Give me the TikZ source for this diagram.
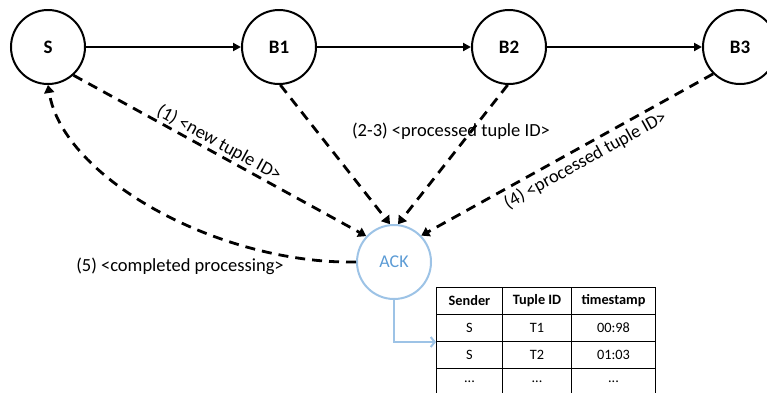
\documentclass[tikz,border=0pt]{standalone}
\usepackage{fontspec}
\setmainfont{Carlito}
\usetikzlibrary{arrows.meta}
\definecolor{ackline}{RGB}{157,195,230}
\definecolor{acktext}{RGB}{91,155,213}

\begin{document}
\begin{tikzpicture}[x=1pt,y=-1pt,
  proc/.style={circle, draw, line width=2pt, minimum size=74pt, inner sep=0pt,
    font=\fontsize{19}{22}\selectfont\bfseries},
  ackbox/.style={circle, draw=ackline, line width=2pt, minimum size=74pt, inner sep=0pt,
    text=acktext, font=\fontsize{18}{22}\selectfont},
  flow/.style={line width=2.2pt, -{Triangle[length=8pt,width=8pt]}},
  ackmsg/.style={line width=2.8pt, dash pattern=on 10pt off 7pt,
    -{Triangle[length=8pt,width=10pt]}},
  ackout/.style={draw=ackline, line width=2pt, -{Straight Barb[length=4pt,width=10pt]}},
  lbl/.style={font=\fontsize{18.5}{22}\selectfont, inner sep=1.5pt},
  cell/.style={draw, line width=1pt, minimum height=27pt, inner sep=0pt, anchor=north west,
    font=\fontsize{14.3}{17}\selectfont},
  colA/.style={cell, minimum width=66pt},
  colB/.style={cell, minimum width=69pt},
  colC/.style={cell, minimum width=84pt}
]
\useasboundingbox (0,0) rectangle (767,392);
\clip (0,0) rectangle (767,392);

% processing chain
\node[proc] (s)  at (48,47)  {S};
\node[proc] (b1) at (279,47) {B1};
\node[proc] (b2) at (509,47) {B2};
\node[proc] (b3) at (740,47) {B3};

% acker
\node[ackbox] (ack) at (394,262) {ACK};

\draw[flow] (s) -- (b1);
\draw[flow] (b1) -- (b2);
\draw[flow] (b2) -- (b3);

% ack messages
\draw[ackmsg] (s.-48) -- node[lbl, sloped, above, pos=0.48, inner sep=1pt] {(1) <new tuple ID>} (ack.137);
\draw[ackmsg] (b1.-88) -- (ack.96);
\draw[ackmsg] (b2.-92) -- (ack.84);
\draw[ackmsg] (b3.-135) -- node[lbl, sloped, below, pos=0.46, inner sep=4pt] {(4) <processed tuple ID>} (ack.44);
\draw[ackmsg] (ack.west) to[out=181, in=-81, out looseness=0.98, in looseness=0.68] (s.south);

\node[lbl] (l23) at (451,131) {(2-3) <processed tuple ID>};
\node[lbl] (l5)  at (180,266) {(5) <completed processing>};

% ack table
\node[colA, font=\fontsize{14.3}{17}\selectfont\bfseries] (h1) at (436,287) {Sender};
\node[colB, font=\fontsize{14.3}{17}\selectfont\bfseries] (h2) at (502,287) {Tuple ID};
\node[colC, font=\fontsize{14.3}{17}\selectfont\bfseries] (h3) at (571,287) {timestamp};
\node[colA] (a1) at (436,314) {S};
\node[colB] (a2) at (502,314) {T1};
\node[colC] (a3) at (571,314) {00:98};
\node[colA] (c1) at (436,341) {S};
\node[colB] (c2) at (502,341) {T2};
\node[colC] (c3) at (571,341) {01:03};
\node[colA] (d1) at (436,368) {...};
\node[colB] (d2) at (502,368) {...};
\node[colC] (d3) at (571,368) {...};

\draw[ackout] (ack.south) |- (a1.south west);
\end{tikzpicture}
\end{document}
